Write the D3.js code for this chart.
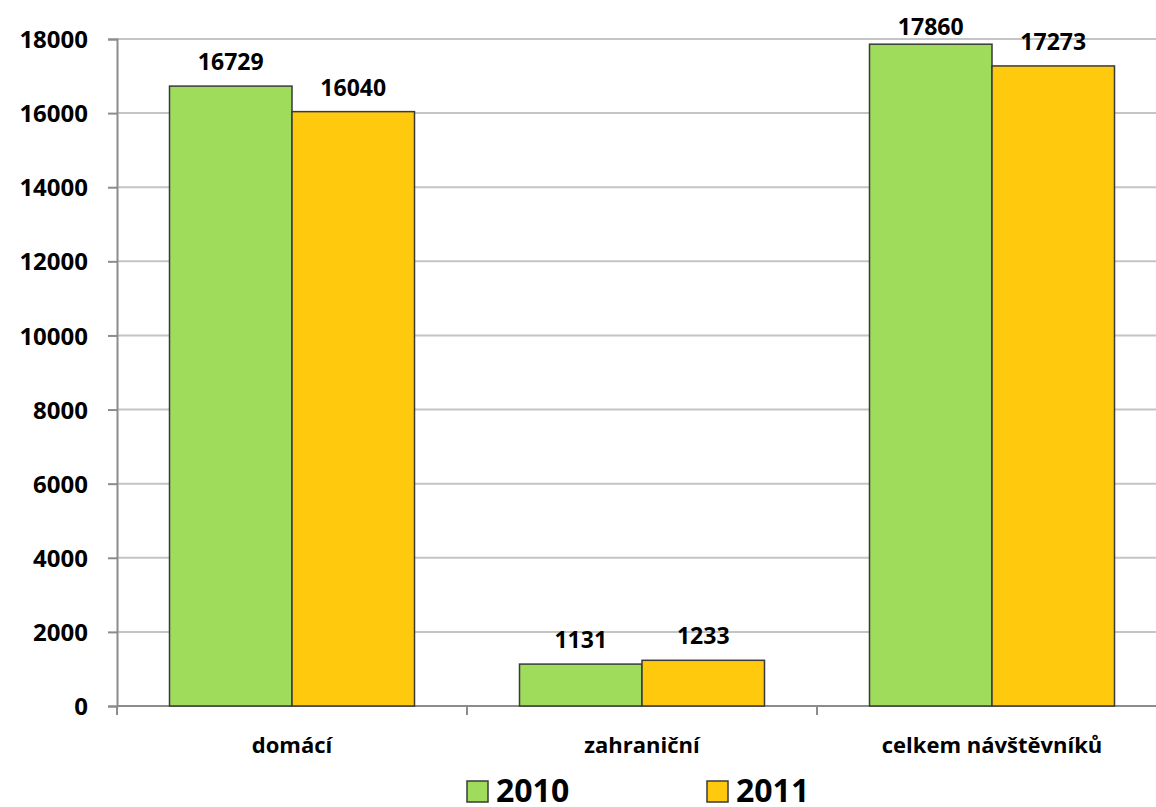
<!DOCTYPE html>
<html>
<head>
<meta charset="utf-8">
<script src="https://cdn.jsdelivr.net/npm/d3@7"></script>
<style>
  body { margin: 0; background: #fff; }
  text { font-family: "Open Sans", Lato, sans-serif; font-weight: bold; fill: #000; }
</style>
</head>
<body>
<script>
// data
var categories = ["domácí", "zahraniční", "celkem návštěvníků"];
var years = ["2010", "2011"];
var values2010 = [16729, 1131, 17860];
var values2011 = [16040, 1233, 17273];
var yTicks = [0, 2000, 4000, 6000, 8000, 10000, 12000, 14000, 16000, 18000];
var colors = ["#9fdc5c", "#ffc90e"];

var svgWidth = 1156, svgHeight = 807;
var margin = { top: 39, right: -11, bottom: 101, left: 117 };
var width = svgWidth - margin.left - margin.right;
var height = svgHeight - margin.top - margin.bottom;

var svg = d3.select("body").append("svg")
  .attr("width", svgWidth)
  .attr("height", svgHeight);

var chartGroup = svg.append("g")
  .attr("transform", `translate(${margin.left}, ${margin.top})`);

var xScale = d3.scaleBand().domain(categories).range([0, width]).paddingInner(0.3).paddingOuter(0.15);
var xOuter = d3.scaleBand().domain(categories).range([0, width]);
var xInner = d3.scaleBand().domain(years).range([0, xScale.bandwidth()]);
var yScale = d3.scaleLinear().domain([0, 18000]).range([height, 0]);

// gridlines
chartGroup.selectAll(".grid").data(yTicks.slice(1)).enter().append("line")
  .attr("x1", 0).attr("x2", width)
  .attr("y1", d => yScale(d)).attr("y2", d => yScale(d))
  .attr("stroke", "#c4c4c4").attr("stroke-width", 2);

// y axis
var leftAxis = d3.axisLeft(yScale).tickValues(yTicks).tickSize(9).tickPadding(20).tickFormat(d3.format("d"));
var yAx = chartGroup.append("g").call(leftAxis);
yAx.select(".domain").attr("stroke", "#8c8c8c").attr("stroke-width", 2);
yAx.selectAll(".tick line").attr("stroke", "#8c8c8c").attr("stroke-width", 2);
yAx.selectAll("text").style("font-size", "24px").style("font-family", "'Open Sans', Lato, sans-serif")
  .attr("font-weight", "bold").attr("fill", "#000").attr("dy", "0.36em");

// x axis
var xAx = chartGroup.append("g").attr("transform", `translate(0, ${height})`);
xAx.append("line").attr("x1", 0).attr("x2", width).attr("stroke", "#8c8c8c").attr("stroke-width", 2);
xAx.selectAll(".xt").data(categories).enter().append("line")
  .attr("x1", d => xOuter(d)).attr("x2", d => xOuter(d))
  .attr("y1", 0).attr("y2", 9)
  .attr("stroke", "#8c8c8c").attr("stroke-width", 2);
xAx.selectAll(".xl").data(categories).enter().append("text")
  .attr("x", d => xScale(d) + xScale.bandwidth() / 2)
  .attr("y", 47)
  .attr("text-anchor", "middle")
  .style("font-size", "22px")
  .text(d => d);

// bars
var rows = [];
categories.forEach(function(c, i) {
  rows.push({ cat: c, year: years[0], value: values2010[i], color: colors[0] });
  rows.push({ cat: c, year: years[1], value: values2011[i], color: colors[1] });
});

chartGroup.selectAll(".bar").data(rows).enter().append("rect")
  .attr("x", d => xScale(d.cat) + xInner(d.year))
  .attr("y", d => yScale(d.value))
  .attr("width", xInner.bandwidth())
  .attr("height", d => height - yScale(d.value))
  .attr("fill", d => d.color)
  .attr("stroke", "#3a3a3a")
  .attr("stroke-width", 1.5);

chartGroup.selectAll(".lbl").data(rows).enter().append("text")
  .attr("x", d => xScale(d.cat) + xInner(d.year) + xInner.bandwidth() / 2)
  .attr("y", d => Math.max(yScale(d.value) - 16, -4))
  .attr("text-anchor", "middle")
  .style("font-size", "23px")
  .text(d => d.value);

// legend
var legend = svg.append("g").attr("transform", "translate(467, 781)");
var legX = [0, 240];
years.forEach(function(y, i) {
  legend.append("rect").attr("x", legX[i]).attr("y", 0).attr("width", 21).attr("height", 21)
    .attr("fill", colors[i]).attr("stroke", "#3a3a3a").attr("stroke-width", 1.5);
  legend.append("text").attr("x", legX[i] + 29).attr("y", 21)
    .style("font-size", "32px").text(y);
});
</script>
</body>
</html>
